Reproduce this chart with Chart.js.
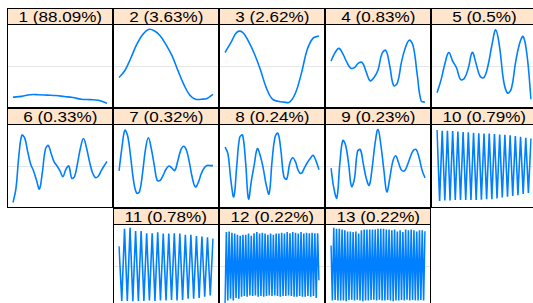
<!DOCTYPE html>
<html>
<head>
<meta charset="utf-8">
<script src="https://cdn.jsdelivr.net/npm/chart.js@4"></script>
<style>
  body { margin: 0; background: #fff; }
  #wrap { position: relative; width: 533px; height: 303px; overflow: hidden; background: #fff; }
  .panel { position: absolute; width: 106px; height: 100px; border: 1px solid #000; box-sizing: border-box; background: #fff; }
  .strip { height: 15px; border-bottom: 1px solid #000; background: #ffe5cc; text-align: center;
           font-family: "Liberation Sans", Arial, sans-serif; font-size: 14px; line-height: 16px;
           color: #000; white-space: nowrap; overflow: hidden; }
  .strip span { display: inline-block; transform: scaleX(1.22); }
  canvas { display: block; }
</style>
</head>
<body>
<div id="wrap"></div>
<script>
// component numbers and their share of the eigenvalue sum
var components = ["1", "2", "3", "4", "5", "6", "7", "8", "9", "10", "11", "12", "13"];
var shares = ["88.09%", "3.63%", "2.62%", "0.83%", "0.5%", "0.33%", "0.32%", "0.24%", "0.23%", "0.79%", "0.78%", "0.22%", "0.22%"];

// eigenvector values (scaled so the panel spans -1..1)
var ev1 = [-0.76, -0.74, -0.70, -0.70, -0.71, -0.72, -0.745, -0.77, -0.81, -0.82, -0.835, -0.91];
var ev2 = [-0.28, -0.11, 0.19, 0.52, 0.76, 0.89, 0.86, 0.74, 0.52, 0.26, -0.10, -0.44, -0.70, -0.81, -0.81, -0.79, -0.69];
var ev3 = [0.33, 0.57, 0.82, 0.82, 0.60, 0.30, -0.08, -0.52, -0.80, -0.86, -0.88, -0.88, -0.66, -0.18, 0.40, 0.68, 0.73];
var ev4 = [0.12, 0.32, 0.43, 0.30, 0.10, -0.05, -0.04, 0.07, 0.08, -0.15, -0.36, -0.28, -0.10, 0.30, 0.38, 0.00,
           -0.48, -0.40, 0.10, 0.45, 0.63, 0.48, -0.20, -0.85, -0.88];
var ev5 = [-0.65, -0.35, 0.05, 0.33, 0.12, -0.05, -0.33, -0.30, -0.05, 0.33, 0.05, -0.25, -0.28, 0.00, 0.50, 0.88,
           0.45, -0.36, -0.66, -0.55, 0.05, 0.52, 0.72, 0.25, -0.81];
var ev6 = [-0.89, -0.55, 0.25, 0.75, 0.68, 0.35, 0.05, -0.12, -0.35, -0.56, -0.15, 0.40, 0.50, 0.30, 0.10, 0.00,
           -0.12, -0.26, -0.08, 0.00, -0.30, -0.25, 0.08, 0.45, 0.67, 0.45, 0.12, -0.15, -0.28, -0.25, -0.12, 0.00, 0.11];
var ev7 = [-0.12, 0.45, 0.87, 0.72, 0.20, -0.38, -0.66, -0.62, -0.18, 0.40, 0.69, 0.42, 0.02, -0.35, -0.35, -0.23,
           -0.08, 0.00, -0.05, -0.11, 0.12, 0.38, 0.48, 0.38, 0.07, -0.30, -0.51, -0.40, -0.19, -0.05, 0.01, 0.01, 0.01];
var ev8 = [0.46, 0.30, -0.35, -0.75, 0.00, 0.70, 0.75, 0.10, -0.80, -0.35, 0.05, 0.42, 0.25, -0.05, -0.45, -0.68,
           0.10, 0.70, 0.80, 0.40, -0.25, -0.32, 0.05, 0.20, 0.10, -0.12, -0.18, -0.05, 0.08, 0.18, 0.26, 0.12, -0.09];
var ev9 = [-0.05, -0.55, -0.78, 0.05, 0.62, 0.50, 0.05, -0.50, -0.30, 0.35, 0.40, 0.05, -0.30, -0.47, -0.05, 0.55,
           0.89, 0.50, -0.10, -0.63, -0.30, 0.10, 0.25, 0.08, -0.10, -0.12, 0.02, 0.22, 0.38, 0.40, 0.20, -0.10, -0.29];
var ev10 = [0.88, -0.85, 0.86, -0.84, 0.86, -0.84, 0.85, -0.83, 0.84, -0.83, 0.83, -0.83, 0.82, -0.83, 0.81, -0.83,
            0.80, -0.82, 0.79, -0.81, 0.79, -0.81, 0.78, -0.79, 0.77, -0.77, 0.76, -0.75, 0.75, -0.73, 0.73, -0.71,
            0.71, -0.68, 0.69, -0.66, 0.67];
var ev11 = [0.48, -0.85, 0.91, -0.85, 0.93, -0.86, 0.85, -0.85, 0.85, -0.85, 0.80, -0.84, 0.80, -0.85, 0.82, -0.84,
            0.79, -0.84, 0.79, -0.83, 0.80, -0.84, 0.79, -0.83, 0.76, -0.80, 0.76, -0.80, 0.73, -0.78, 0.72, -0.75,
            0.70, -0.72, 0.67];
var ev12 = [-0.90, 0.83, -0.84, 0.84, -0.80, 0.81, -0.84, 0.79, -0.78, 0.76, -0.80, 0.74, -0.75, 0.76, -0.73, 0.76,
            -0.75, 0.79, -0.72, 0.74, -0.73, 0.80, -0.72, 0.83, -0.75, 0.79, -0.73, 0.81, -0.75, 0.79, -0.73, 0.76,
            -0.72, 0.79, -0.73, 0.76, -0.72, 0.79, -0.73, 0.79, -0.75, 0.81, -0.73, 0.79, -0.73, 0.83, -0.72, 0.80,
            -0.73, 0.83, -0.75, 0.81, -0.75, 0.79, -0.73, 0.83, -0.75, 0.79, -0.75, 0.81, -0.73, 0.80, -0.75, 0.81,
            -0.73, 0.80, -0.78, 0.80, -0.35];
var ev13 = [0.50, -0.84, 0.93, -0.83, 0.91, -0.84, 0.91, -0.84, 0.89, -0.84, 0.87, -0.86, 0.84, -0.83, 0.84, -0.82,
            0.83, -0.84, 0.84, -0.82, 0.79, -0.84, 0.87, -0.86, 0.89, -0.84, 0.89, -0.84, 0.89, -0.83, 0.89, -0.82,
            0.89, -0.84, 0.91, -0.82, 0.91, -0.84, 0.91, -0.84, 0.89, -0.83, 0.89, -0.84, 0.87, -0.86, 0.89, -0.84,
            0.84, -0.84, 0.87, -0.83, 0.83, -0.84, 0.89, -0.82, 0.87, -0.84, 0.89, -0.83, 0.87, -0.84, 0.84, -0.84,
            0.87, -0.83, 0.87, -0.84, 0.85];

var vectors = [ev1, ev2, ev3, ev4, ev5, ev6, ev7, ev8, ev9, ev10, ev11, ev12, ev13];

// where each panel sits in the 5 column layout (last row is centred)
var panel_col = [0, 1, 2, 3, 4, 0, 1, 2, 3, 4, 1, 2, 3];
var panel_row = [0, 0, 0, 0, 0, 1, 1, 1, 1, 1, 2, 2, 2];

// light grey reference line at zero, full panel width
var zero_line = {
    id: "zero_line",
    beforeDatasetsDraw: function (chart) {
        var ctx = chart.ctx;
        var y = Math.round(chart.scales.y.getPixelForValue(0)) + 0.5;
        ctx.save();
        ctx.strokeStyle = "#e6e6e6";
        ctx.lineWidth = 1;
        ctx.beginPath();
        ctx.moveTo(0, y);
        ctx.lineTo(chart.width, y);
        ctx.stroke();
        ctx.restore();
    }
};

var wrap = document.getElementById("wrap");

for (var i = 0; i < vectors.length; i++) {
    var panel = document.createElement("div");
    panel.className = "panel";
    panel.style.left = (7 + panel_col[i] * 106) + "px";
    panel.style.top = (8 + panel_row[i] * 100) + "px";

    var strip = document.createElement("div");
    strip.className = "strip";
    var label = document.createElement("span");
    label.textContent = components[i] + " (" + shares[i] + ")";
    strip.appendChild(label);
    panel.appendChild(strip);

    var canvas = document.createElement("canvas");
    canvas.width = 104;
    canvas.height = 82;
    panel.appendChild(canvas);
    wrap.appendChild(panel);

    var values = vectors[i];
    var labels = values.map(function (v, k) { return k + 1; });

    // the fast oscillating components are drawn as straight segments
    var smooth = i < 9 ? 0.4 : 0;

    new Chart(canvas, {
        type: "line",
        data: {
            labels: labels,
            datasets: [{
                data: values,
                borderColor: "#0080ff",
                borderWidth: 1.6,
                pointRadius: 0,
                tension: smooth,
                fill: false
            }]
        },
        options: {
            responsive: false,
            animation: false,
            devicePixelRatio: 1,
            layout: { padding: { left: 5, right: 5, top: 0, bottom: 0 } },
            plugins: { legend: { display: false }, tooltip: { enabled: false } },
            scales: {
                x: { display: false, offset: false },
                y: { display: false, min: -1, max: 1 }
            }
        },
        plugins: [zero_line]
    });
}
</script>
</body>
</html>
